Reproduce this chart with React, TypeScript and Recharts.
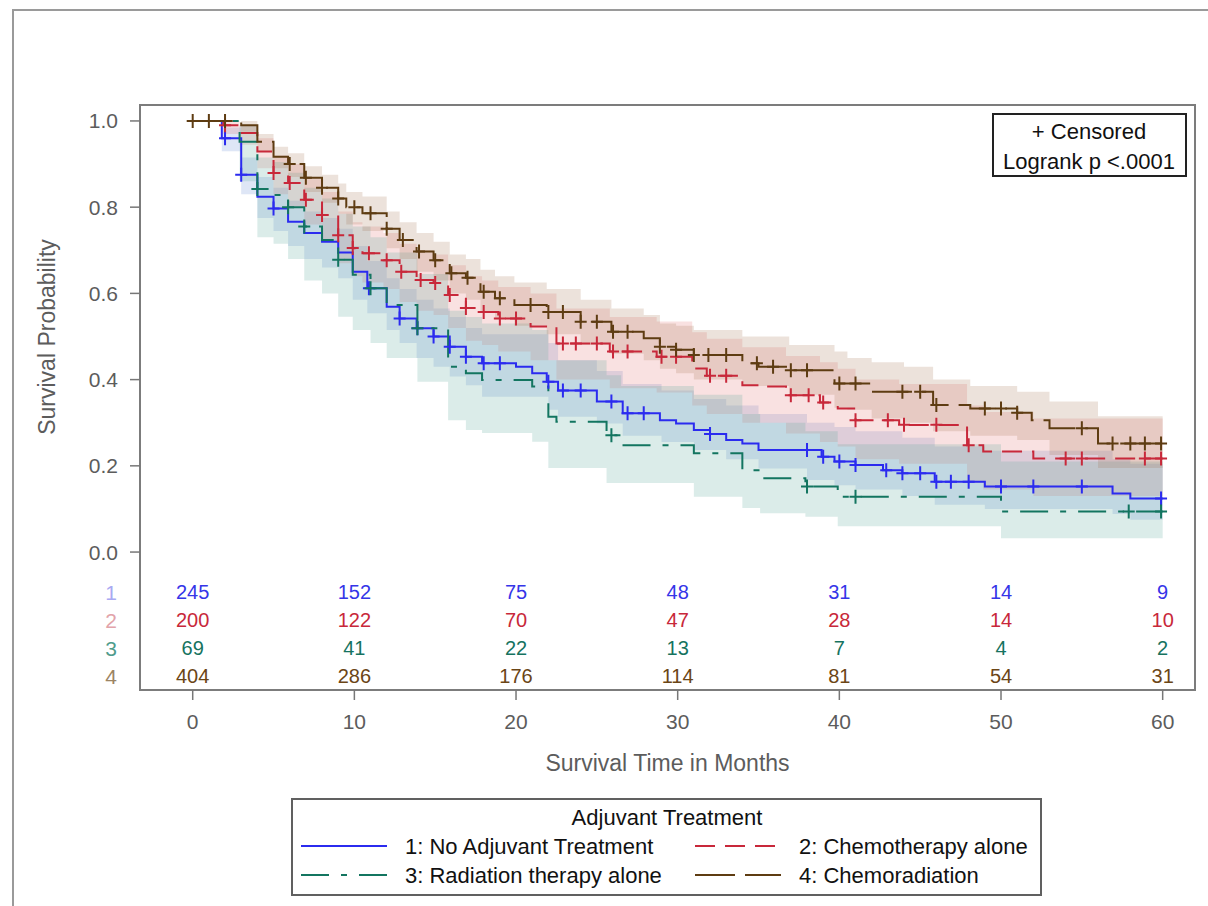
import { ComposedChart, Area, Line, Scatter, XAxis, YAxis, ReferenceArea } from "recharts";

const FONT = '"Liberation Sans", Arial, sans-serif';

// survival curves (step after)
const blueT = [0, 1.8, 3.0, 4.0, 5.0, 5.9, 6.9, 8.0, 9.0, 9.9, 10.8, 12.0, 12.8, 13.85, 14.9, 15.9, 16.9, 17.9, 20.0, 21.0, 21.9, 22.6, 25.0, 26.6, 28.9, 29.9, 31.0, 32.0, 33.0, 34.0, 35.0, 38.9, 39.7, 41.0, 42.7, 43.9, 45.9, 49.0, 56.9, 58.0, 60];
const blueS = [1.0, 0.96, 0.875, 0.824, 0.797, 0.766, 0.74, 0.72, 0.695, 0.65, 0.612, 0.569, 0.542, 0.519, 0.5, 0.476, 0.453, 0.438, 0.43, 0.415, 0.395, 0.375, 0.349, 0.322, 0.306, 0.298, 0.283, 0.274, 0.26, 0.252, 0.237, 0.221, 0.21, 0.202, 0.19, 0.183, 0.163, 0.152, 0.136, 0.124, 0.124];
const blueCensor = [2.0, 3.0, 5.0, 10.9, 12.8, 13.9, 14.9, 15.9, 16.9, 18.0, 19.0, 22.0, 22.9, 24.0, 25.9, 26.9, 27.9, 32.0, 38.0, 39.0, 40.0, 41.0, 42.9, 43.9, 45.0, 46.0, 46.9, 48.0, 50.0, 52.0, 55.0, 59.9];

const redT = [0, 1.9, 2.9, 4.0, 5.0, 5.9, 6.9, 8.0, 9.0, 9.9, 10.5, 11.8, 12.8, 13.85, 14.9, 15.8, 16.9, 17.9, 18.9, 20.9, 22.5, 25.8, 28.7, 30.9, 31.8, 34.0, 35.5, 36.7, 38.8, 39.9, 41.0, 43.7, 47.9, 48.9, 52.0, 60];
const redS = [1.0, 0.99, 0.972, 0.929, 0.879, 0.856, 0.817, 0.782, 0.735, 0.705, 0.693, 0.677, 0.65, 0.631, 0.624, 0.596, 0.566, 0.557, 0.542, 0.523, 0.484, 0.465, 0.453, 0.426, 0.409, 0.387, 0.384, 0.364, 0.347, 0.333, 0.306, 0.295, 0.248, 0.233, 0.217, 0.217];
const redCensor = [2.0, 5.0, 6.0, 7.0, 8.0, 9.0, 9.9, 10.9, 12.0, 12.9, 14.1, 15.0, 15.9, 16.9, 18.0, 19.0, 20.0, 22.9, 23.7, 25.0, 26.0, 26.9, 29.0, 29.9, 32.0, 33.0, 37.0, 38.1, 39.0, 41.0, 43.0, 44.0, 46.0, 48.0, 54.0, 55.0, 58.9, 59.9];

const tealT = [0, 2.9, 4.0, 5.0, 5.9, 6.9, 8.0, 9.0, 9.9, 11.0, 12.0, 13.9, 15.8, 16.9, 17.9, 21.0, 22.0, 22.5, 25.6, 26.5, 31.0, 34.0, 35.1, 37.9, 39.9, 50.0, 60];
const tealS = [1.0, 0.952, 0.842, 0.828, 0.8, 0.755, 0.724, 0.678, 0.643, 0.612, 0.573, 0.519, 0.43, 0.415, 0.399, 0.384, 0.314, 0.302, 0.271, 0.248, 0.229, 0.19, 0.171, 0.152, 0.128, 0.094, 0.094];
const tealCensor = [4.0, 5.9, 6.9, 9.0, 11.0, 13.9, 25.9, 38.0, 41.0, 57.9, 59.9];

const brownT = [0, 3.0, 4.0, 5.0, 5.9, 6.9, 8.0, 9.0, 9.5, 10.5, 12.0, 12.8, 13.85, 14.9, 15.9, 16.9, 17.8, 18.7, 19.9, 21.9, 24.0, 25.9, 27.9, 28.9, 29.9, 31.0, 34.0, 35.0, 36.9, 39.7, 42.0, 45.8, 48.1, 51.0, 51.9, 53.0, 56.0, 60];
const brownS = [1.0, 0.99, 0.952, 0.917, 0.9, 0.868, 0.845, 0.82, 0.8, 0.786, 0.75, 0.724, 0.697, 0.677, 0.647, 0.636, 0.604, 0.589, 0.573, 0.557, 0.534, 0.511, 0.496, 0.476, 0.469, 0.457, 0.438, 0.43, 0.422, 0.391, 0.372, 0.341, 0.333, 0.323, 0.306, 0.287, 0.252, 0.252];
const brownCensor = [0, 1, 2, 6, 7, 8, 9, 10, 11, 12, 13, 14, 15, 16, 17, 18, 19, 20.9, 22, 22.9, 24, 25, 26, 26.9, 28.9, 29.9, 31, 31.9, 33, 34.9, 35.9, 37, 38, 40, 41, 43.9, 45, 46, 49, 50, 51, 55, 56.9, 58, 58.9, 59.9];

// confidence bands
const blueBandT = [0, 1.8, 3.0, 4.0, 5.0, 5.9, 6.9, 8.0, 9.0, 9.9, 10.8, 12.0, 12.8, 13.85, 14.9, 15.9, 16.9, 17.9, 22.0, 22.6, 25.0, 26.6, 29.0, 31.0, 33.0, 35.0, 38.0, 39.7, 41.0, 43.9, 45.9, 49.0, 56.9, 58.0, 60];
const blueLo = [1.0, 0.93, 0.83, 0.775, 0.745, 0.71, 0.68, 0.66, 0.635, 0.585, 0.554, 0.515, 0.485, 0.45, 0.43, 0.407, 0.387, 0.36, 0.33, 0.314, 0.298, 0.27, 0.255, 0.237, 0.215, 0.194, 0.167, 0.155, 0.145, 0.13, 0.11, 0.1, 0.088, 0.075, 0.075];
const blueHi = [1.0, 0.985, 0.915, 0.87, 0.845, 0.815, 0.79, 0.775, 0.75, 0.71, 0.675, 0.635, 0.61, 0.585, 0.565, 0.545, 0.52, 0.505, 0.485, 0.445, 0.42, 0.39, 0.375, 0.355, 0.34, 0.32, 0.3, 0.29, 0.28, 0.265, 0.245, 0.235, 0.215, 0.205, 0.205];

const redBandT = [0, 1.9, 2.9, 4.0, 5.0, 5.9, 6.9, 8.0, 9.0, 9.9, 10.5, 11.8, 12.8, 13.85, 14.9, 15.8, 16.9, 17.9, 18.9, 20.9, 22.5, 25.8, 28.7, 30.9, 31.8, 34.0, 36.7, 38.8, 39.9, 41.0, 43.7, 47.9, 48.9, 52.0, 60];
const redLo = [1.0, 0.97, 0.945, 0.89, 0.83, 0.8, 0.76, 0.72, 0.67, 0.64, 0.625, 0.61, 0.58, 0.56, 0.55, 0.52, 0.49, 0.48, 0.465, 0.445, 0.4, 0.38, 0.37, 0.34, 0.32, 0.3, 0.275, 0.255, 0.245, 0.215, 0.205, 0.16, 0.145, 0.13, 0.13];
const redHi = [1.0, 1.0, 0.99, 0.96, 0.92, 0.9, 0.865, 0.835, 0.79, 0.765, 0.755, 0.74, 0.715, 0.7, 0.69, 0.665, 0.64, 0.63, 0.615, 0.6, 0.565, 0.545, 0.535, 0.51, 0.495, 0.475, 0.455, 0.44, 0.425, 0.4, 0.39, 0.34, 0.325, 0.31, 0.31];

const tealBandT = [0, 2.9, 4.0, 5.0, 5.9, 6.9, 8.0, 9.0, 9.9, 11.0, 12.0, 13.9, 15.8, 16.9, 17.9, 21.0, 22.0, 25.6, 26.5, 31.0, 34.0, 35.1, 37.9, 39.9, 50.0, 60];
const tealLo = [1.0, 0.86, 0.73, 0.715, 0.68, 0.63, 0.6, 0.546, 0.515, 0.485, 0.45, 0.395, 0.306, 0.283, 0.276, 0.256, 0.195, 0.16, 0.16, 0.128, 0.102, 0.09, 0.082, 0.06, 0.032, 0.032];
const tealHi = [1.0, 0.99, 0.915, 0.905, 0.88, 0.845, 0.82, 0.785, 0.755, 0.73, 0.695, 0.645, 0.56, 0.545, 0.53, 0.515, 0.445, 0.41, 0.385, 0.365, 0.32, 0.3, 0.28, 0.25, 0.21, 0.21];

const brownBandT = [0, 3.0, 4.0, 5.0, 5.9, 6.9, 8.0, 9.0, 9.5, 10.5, 12.0, 12.8, 13.85, 14.9, 15.9, 16.9, 17.8, 18.7, 19.9, 21.9, 24.0, 25.9, 27.9, 28.9, 29.9, 31.0, 34.0, 36.9, 39.7, 40.5, 42.0, 44.0, 45.8, 48.1, 51.0, 53.0, 56.0, 60];
const brownLo = [1.0, 0.975, 0.93, 0.89, 0.87, 0.835, 0.81, 0.785, 0.76, 0.745, 0.705, 0.68, 0.65, 0.63, 0.6, 0.585, 0.555, 0.54, 0.525, 0.505, 0.48, 0.46, 0.445, 0.425, 0.415, 0.4, 0.385, 0.365, 0.335, 0.33, 0.31, 0.3, 0.28, 0.27, 0.26, 0.225, 0.195, 0.195];
const brownHi = [1.0, 1.0, 0.97, 0.94, 0.925, 0.895, 0.875, 0.855, 0.835, 0.825, 0.79, 0.765, 0.74, 0.72, 0.69, 0.68, 0.655, 0.64, 0.625, 0.61, 0.585, 0.565, 0.55, 0.53, 0.525, 0.515, 0.5, 0.48, 0.465, 0.45, 0.44, 0.43, 0.4, 0.385, 0.372, 0.349, 0.315, 0.315];

// number at risk
const riskTimes = [0, 10, 20, 30, 40, 50, 60];
const blueN = [245, 152, 75, 48, 31, 14, 9];
const redN = [200, 122, 70, 47, 28, 14, 10];
const tealN = [69, 41, 22, 13, 7, 4, 2];
const brownN = [404, 286, 176, 114, 81, 54, 31];

const xTicks = [0, 10, 20, 30, 40, 50, 60];
const yTicks = [0, 0.2, 0.4, 0.6, 0.8, 1.0];

// layout
const X_MIN = -3.26;
const X_MAX = 62.0;
const Y_MIN = -0.32;
const Y_MAX = 1.037;
const ROW_Y = [-0.0928, -0.1578, -0.2227, -0.2877];
const PLOT_LEFT = 140;

const steps = (ts: number[], ss: number[]) => ts.map((t, i) => ({ t, s: ss[i] }));
const band = (ts: number[], lo: number[], hi: number[]) => ts.map((t, i) => ({ t, band: [lo[i], hi[i]] }));
const valueAt = (ts: number[], ss: number[], t: number) => {
  let v = ss[0];
  for (let i = 0; i < ts.length; i++) if (ts[i] <= t + 1e-9) v = ss[i];
  return v;
};
const censors = (cs: number[], ts: number[], ss: number[]) => cs.map((t) => ({ t, s: valueAt(ts, ss, t) }));
const risk = (ns: number[], row: number) => riskTimes.map((t, i) => ({ t, s: ROW_Y[row], n: ns[i] }));

const groups = [
  { name: "1: No Adjuvant Treatment", color: "#2b2bef", text: "#3535e8", rowLabel: "#a9a9f2", dash: undefined, bandFill: "#6b8fd6", bandOp: 0.22,
    curve: steps(blueT, blueS), cens: censors(blueCensor, blueT, blueS), band: band(blueBandT, blueLo, blueHi), risk: risk(blueN, 0) },
  { name: "2: Chemotherapy alone", color: "#c8283a", text: "#c8283a", rowLabel: "#e2a3aa", dash: "20 10", bandFill: "#e06868", bandOp: 0.2,
    curve: steps(redT, redS), cens: censors(redCensor, redT, redS), band: band(redBandT, redLo, redHi), risk: risk(redN, 1) },
  { name: "3: Radiation therapy alone", color: "#137560", text: "#16735f", rowLabel: "#4f9c8c", dash: "28 12 6 12", bandFill: "#5aa89a", bandOp: 0.22,
    curve: steps(tealT, tealS), cens: censors(tealCensor, tealT, tealS), band: band(tealBandT, tealLo, tealHi), risk: risk(tealN, 2) },
  { name: "4: Chemoradiation", color: "#5e3c12", text: "#6b4516", rowLabel: "#9c8464", dash: "40 10", bandFill: "#a0704a", bandOp: 0.2,
    curve: steps(brownT, brownS), cens: censors(brownCensor, brownT, brownS), band: band(brownBandT, brownLo, brownHi), risk: risk(brownN, 3) },
];

const plusShape = (color: string) => (props: any) => {
  const { cx, cy } = props;
  if (cx == null || cy == null) return <g />;
  return <path d={`M${cx - 6},${cy}h12M${cx},${cy - 7}v14`} stroke={color} strokeWidth={2} fill="none" />;
};

const riskShape = (color: string) => (props: any) => {
  const { cx, cy, payload } = props;
  if (cx == null || cy == null) return <g />;
  return (
    <text x={cx} y={cy} textAnchor="middle" dominantBaseline="central" fill={color} fontSize={20} fontFamily={FONT}>
      {payload.n}
    </text>
  );
};

const YTick = (props: any) => {
  const { y, payload } = props;
  const v = payload.value;
  const row = ROW_Y.indexOf(v);
  if (row >= 0) {
    return (
      <text x={PLOT_LEFT - 23} y={y} textAnchor="end" dominantBaseline="central" fill={groups[row].rowLabel} fontSize={21} fontFamily={FONT}>
        {row + 1}
      </text>
    );
  }
  return (
    <g>
      <line x1={PLOT_LEFT - 10} x2={PLOT_LEFT} y1={y} y2={y} stroke="#777" strokeWidth={1.5} />
      <text x={PLOT_LEFT - 22} y={y} textAnchor="end" dominantBaseline="central" fill="#5c5c5c" fontSize={21} fontFamily={FONT}>
        {v.toFixed(1)}
      </text>
    </g>
  );
};

const XTitle = () => (
  <text x={667.5} y={763} textAnchor="middle" dominantBaseline="central" fill="#5c5c5c" fontSize={23} fontFamily={FONT}>
    Survival Time in Months
  </text>
);

const YTitle = () => (
  <text x={47} y={337} textAnchor="middle" dominantBaseline="central" fill="#5c5c5c" fontSize={23} fontFamily={FONT} transform="rotate(-90 47 337)">
    Survival Probability
  </text>
);

const LegendBox = () => (
  <div style={{ position: "absolute", left: 291, top: 798, width: 751, height: 98, border: "2px solid #606060", boxSizing: "border-box", background: "#fff" }}>
    <svg width={747} height={94} style={{ display: "block" }}>
      <text x={374} y={17} textAnchor="middle" dominantBaseline="central" fontSize={22} fontFamily={FONT} fill="#111">
        Adjuvant Treatment
      </text>
      {groups.map((g, i) => {
        const col = i % 2;
        const row = Math.floor(i / 2);
        const lx = col === 0 ? 8 : 402;
        const y = 46 + row * 29;
        return (
          <g key={g.name}>
            <line x1={lx} x2={lx + 86} y1={y} y2={y} stroke={g.color} strokeWidth={2} strokeDasharray={g.dash} />
            <text x={lx + 104} y={y} dominantBaseline="central" fontSize={22} fontFamily={FONT} fill="#111">
              {g.name}
            </text>
          </g>
        );
      })}
    </svg>
  </div>
);

const InsetBox = () => (
  <div style={{ position: "absolute", left: 992, top: 113, width: 195, height: 64, border: "2px solid #222", boxSizing: "border-box", background: "#fff" }}>
    <svg width={191} height={60} style={{ display: "block" }}>
      <text x={95} y={16} textAnchor="middle" dominantBaseline="central" fontSize={22} fontFamily={FONT} fill="#111">
        + Censored
      </text>
      <text x={95} y={46} textAnchor="middle" dominantBaseline="central" fontSize={22} fontFamily={FONT} fill="#111">
        Logrank p &lt;.0001
      </text>
    </svg>
  </div>
);

export default function App() {
  return (
    <div style={{ position: "absolute", left: 0, top: 0, width: 1208, height: 906, background: "#fff", fontFamily: FONT }}>
      <div style={{ position: "absolute", left: 12, top: 9, right: 0, bottom: 0, borderTop: "2px solid #9a9a9a", borderLeft: "2px solid #9a9a9a" }} />
      <div style={{ position: "absolute", left: 0, top: 0 }}>
        <ComposedChart width={1208} height={906} margin={{ top: 105, right: 13, bottom: 156, left: 40 }}>
          <XAxis
            type="number"
            dataKey="t"
            domain={[X_MIN, X_MAX]}
            allowDataOverflow
            ticks={xTicks}
            interval={0}
            axisLine={false}
            tickLine={{ stroke: "#777", strokeWidth: 1.5 }}
            tickSize={10}
            tickMargin={14}
            height={60}
            tick={{ fill: "#5c5c5c", fontSize: 21, fontFamily: FONT }}
            label={<XTitle />}
          />
          <YAxis
            type="number"
            domain={[Y_MIN, Y_MAX]}
            allowDataOverflow
            ticks={[...ROW_Y.slice().reverse(), ...yTicks]}
            interval={0}
            axisLine={false}
            tickLine={false}
            width={100}
            tick={<YTick />}
            label={<YTitle />}
          />
          {groups.map((g) => (
            <Area
              key={"band" + g.name}
              data={g.band}
              dataKey="band"
              type="stepAfter"
              stroke="none"
              fill={g.bandFill}
              fillOpacity={g.bandOp}
              isAnimationActive={false}
            />
          ))}
          {groups.map((g) => (
            <Line
              key={"line" + g.name}
              data={g.curve}
              dataKey="s"
              type="stepAfter"
              stroke={g.color}
              strokeWidth={2}
              strokeDasharray={g.dash}
              dot={false}
              activeDot={false}
              isAnimationActive={false}
            />
          ))}
          {groups.map((g) => (
            <Scatter key={"cens" + g.name} data={g.cens} dataKey="s" shape={plusShape(g.color)} isAnimationActive={false} />
          ))}
          {groups.map((g) => (
            <Scatter key={"risk" + g.name} data={g.risk} dataKey="s" shape={riskShape(g.text)} isAnimationActive={false} />
          ))}
          <ReferenceArea x1={X_MIN} x2={X_MAX} y1={Y_MIN} y2={Y_MAX} fill="none" fillOpacity={0} stroke="#7c7c7c" strokeWidth={2} />
        </ComposedChart>
      </div>
      <InsetBox />
      <LegendBox />
    </div>
  );
}
